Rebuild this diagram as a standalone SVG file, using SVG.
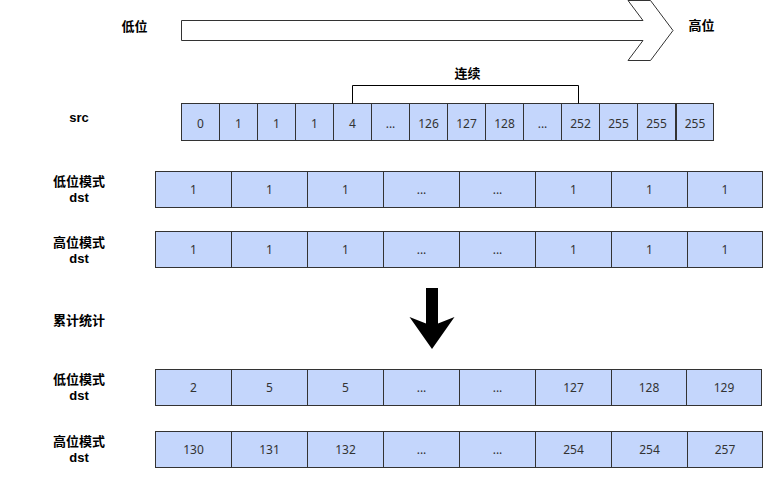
<svg xmlns="http://www.w3.org/2000/svg" width="765" height="477" viewBox="0 0 765 477">
<style>
.cell{fill:#c4d6fc;stroke:#333;stroke-width:1}
.num{font-family:"Noto Sans","Open Sans",sans-serif;font-size:12px;fill:#333;text-anchor:middle;dominant-baseline:central}
.lbl{font-family:"Noto Sans CJK SC","Noto Sans",sans-serif;font-size:13px;font-weight:bold;fill:#000;text-anchor:middle;dominant-baseline:central}
.lat{font-family:"Liberation Sans",Arial,sans-serif;font-size:13px;font-weight:bold;fill:#000;text-anchor:middle;dominant-baseline:central}
</style>
<rect width="765" height="477" fill="#fff"/>
<g id="dir-arrow">
<polygon points="181.5,20.5 643,20.5 628,0.5 650.5,0.5 673,30.5 650.5,60.5 628,60.5 643,40.5 181.5,40.5" fill="#fff" stroke="#333" stroke-width="1"/>
</g>
<g id="label-low"><text class="lbl" x="134.5" y="25">低位</text></g>
<g id="label-high"><text class="lbl" x="701.5" y="24">高位</text></g>
<g id="label-cont"><text class="lbl" x="467.5" y="72">连续</text></g>
<g id="label-src"><text class="lat" x="79" y="117">src</text></g>
<g id="label-dst1"><text class="lbl" x="79" y="180.5">低位模式</text><text class="lat" x="79" y="197.8">dst</text></g>
<g id="label-dst2"><text class="lbl" x="79" y="241">高位模式</text><text class="lat" x="79" y="258.3">dst</text></g>
<g id="label-acc"><text class="lbl" x="79" y="319">累计统计</text></g>
<g id="label-dst3"><text class="lbl" x="79" y="378.5">低位模式</text><text class="lat" x="79" y="395.8">dst</text></g>
<g id="label-dst4"><text class="lbl" x="79" y="440">高位模式</text><text class="lat" x="79" y="457.3">dst</text></g>

<g id="src-row">
<rect class="cell" x="181.5" y="103.5" width="38" height="37"/><text class="num" x="200.5" y="123">0</text>
<rect class="cell" x="219.5" y="103.5" width="38" height="37"/><text class="num" x="238.5" y="123">1</text>
<rect class="cell" x="257.5" y="103.5" width="38" height="37"/><text class="num" x="276.5" y="123">1</text>
<rect class="cell" x="295.5" y="103.5" width="38" height="37"/><text class="num" x="314.5" y="123">1</text>
<rect class="cell" x="333.5" y="103.5" width="38" height="37"/><text class="num" x="352.5" y="123">4</text>
<rect class="cell" x="371.5" y="103.5" width="38" height="37"/><text class="num" x="390.5" y="123">...</text>
<rect class="cell" x="409.5" y="103.5" width="38" height="37"/><text class="num" x="428.5" y="123">126</text>
<rect class="cell" x="447.5" y="103.5" width="38" height="37"/><text class="num" x="466.5" y="123">127</text>
<rect class="cell" x="485.5" y="103.5" width="38" height="37"/><text class="num" x="504.5" y="123">128</text>
<rect class="cell" x="523.5" y="103.5" width="38" height="37"/><text class="num" x="542.5" y="123">...</text>
<rect class="cell" x="561.5" y="103.5" width="38" height="37"/><text class="num" x="580.5" y="123">252</text>
<rect class="cell" x="599.5" y="103.5" width="38" height="37"/><text class="num" x="618.5" y="123">255</text>
<rect class="cell" x="637.5" y="103.5" width="38" height="37"/><text class="num" x="656.5" y="123">255</text>
<rect class="cell" x="676.5" y="103.5" width="37" height="37"/><text class="num" x="695" y="123">255</text>
</g>

<g id="dst-low-1">
<rect class="cell" x="155.5" y="171.5" width="76" height="36"/><text class="num" x="193.5" y="189.5">1</text>
<rect class="cell" x="231.5" y="171.5" width="76" height="36"/><text class="num" x="269.5" y="189.5">1</text>
<rect class="cell" x="307.5" y="171.5" width="76" height="36"/><text class="num" x="345.5" y="189.5">1</text>
<rect class="cell" x="383.5" y="171.5" width="76" height="36"/><text class="num" x="421.5" y="189.5">...</text>
<rect class="cell" x="459.5" y="171.5" width="76" height="36"/><text class="num" x="497.5" y="189.5">...</text>
<rect class="cell" x="535.5" y="171.5" width="76" height="36"/><text class="num" x="573.5" y="189.5">1</text>
<rect class="cell" x="611.5" y="171.5" width="76" height="36"/><text class="num" x="649.5" y="189.5">1</text>
<rect class="cell" x="687.5" y="171.5" width="75" height="36"/><text class="num" x="725" y="189.5">1</text>
</g>

<g id="dst-high-1">
<rect class="cell" x="155.5" y="231.5" width="76" height="36"/><text class="num" x="193.5" y="249.5">1</text>
<rect class="cell" x="231.5" y="231.5" width="76" height="36"/><text class="num" x="269.5" y="249.5">1</text>
<rect class="cell" x="307.5" y="231.5" width="76" height="36"/><text class="num" x="345.5" y="249.5">1</text>
<rect class="cell" x="383.5" y="231.5" width="76" height="36"/><text class="num" x="421.5" y="249.5">...</text>
<rect class="cell" x="459.5" y="231.5" width="76" height="36"/><text class="num" x="497.5" y="249.5">...</text>
<rect class="cell" x="535.5" y="231.5" width="76" height="36"/><text class="num" x="573.5" y="249.5">1</text>
<rect class="cell" x="611.5" y="231.5" width="76" height="36"/><text class="num" x="649.5" y="249.5">1</text>
<rect class="cell" x="687.5" y="231.5" width="75" height="36"/><text class="num" x="725" y="249.5">1</text>
</g>

<g id="down-arrow">
<polygon points="426,288 438,288 438,323.5 454.5,317 432,349 409.5,317 426,323.5" fill="#000"/>
</g>

<g id="dst-low-2">
<rect class="cell" x="155.5" y="369.5" width="76" height="36"/><text class="num" x="193.5" y="387.5">2</text>
<rect class="cell" x="231.5" y="369.5" width="76" height="36"/><text class="num" x="269.5" y="387.5">5</text>
<rect class="cell" x="307.5" y="369.5" width="76" height="36"/><text class="num" x="345.5" y="387.5">5</text>
<rect class="cell" x="383.5" y="369.5" width="76" height="36"/><text class="num" x="421.5" y="387.5">...</text>
<rect class="cell" x="459.5" y="369.5" width="76" height="36"/><text class="num" x="497.5" y="387.5">...</text>
<rect class="cell" x="535.5" y="369.5" width="76" height="36"/><text class="num" x="573.5" y="387.5">127</text>
<rect class="cell" x="611.5" y="369.5" width="75" height="36"/><text class="num" x="649" y="387.5">128</text>
<rect class="cell" x="686.5" y="369.5" width="75" height="36"/><text class="num" x="724" y="387.5">129</text>
</g>

<g id="dst-high-2">
<rect class="cell" x="155.5" y="431.5" width="76" height="36"/><text class="num" x="193.5" y="449.5">130</text>
<rect class="cell" x="231.5" y="431.5" width="76" height="36"/><text class="num" x="269.5" y="449.5">131</text>
<rect class="cell" x="307.5" y="431.5" width="76" height="36"/><text class="num" x="345.5" y="449.5">132</text>
<rect class="cell" x="383.5" y="431.5" width="76" height="36"/><text class="num" x="421.5" y="449.5">...</text>
<rect class="cell" x="459.5" y="431.5" width="76" height="36"/><text class="num" x="497.5" y="449.5">...</text>
<rect class="cell" x="535.5" y="431.5" width="76" height="36"/><text class="num" x="573.5" y="449.5">254</text>
<rect class="cell" x="611.5" y="431.5" width="76" height="36"/><text class="num" x="649.5" y="449.5">254</text>
<rect class="cell" x="687.5" y="431.5" width="75" height="36"/><text class="num" x="725" y="449.5">257</text>
</g>

<g id="connectors">
<path d="M352.5,103.5 V85.5 H578.5 V103.5" fill="none" stroke="#000" stroke-width="1"/>
</g>
</svg>
